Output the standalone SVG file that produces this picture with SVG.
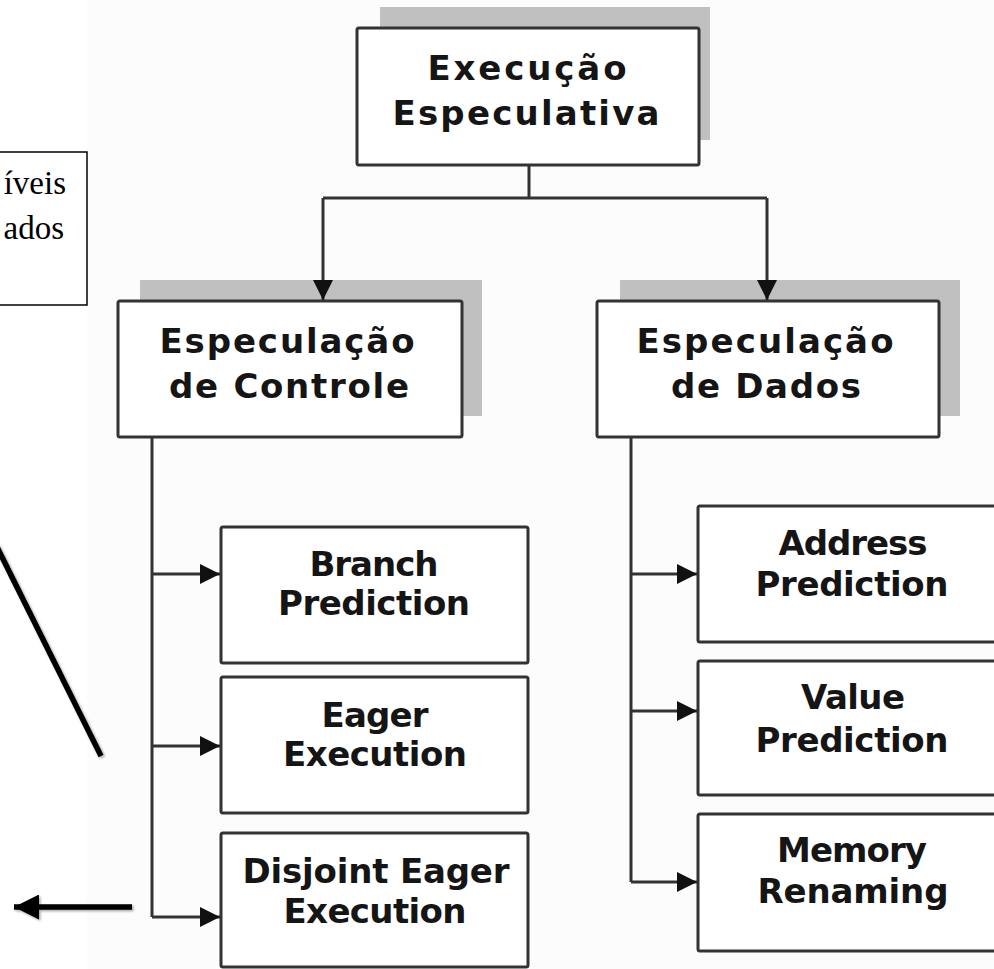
<svg xmlns="http://www.w3.org/2000/svg" width="994" height="969" viewBox="0 0 994 969">
  <defs>
    <style>
      .bg{fill:#fcfcfc}
      .box{fill:#fff;stroke:#333;stroke-width:3}
      .shadow{fill:#c0c0c0}
      .lbl{font-family:"DejaVu Sans",Verdana,sans-serif;font-weight:bold;font-size:34px;fill:#151515;text-anchor:middle}
      .conn{fill:none;stroke:#333;stroke-width:3}
      .note{font-family:"Liberation Serif","Times New Roman",serif;font-size:33px;fill:#000;text-anchor:end}
      .ann{fill:none;stroke:#000;stroke-width:5.5}
    </style>
    <marker id="ah" viewBox="0 0 10 10" refX="10" refY="5" markerUnits="userSpaceOnUse" markerWidth="20" markerHeight="20" orient="auto">
      <path d="M0,0 L10,5 L0,10 z" fill="#111"/>
    </marker>
    <marker id="ahBig" viewBox="0 0 10 10" refX="10" refY="5" markerUnits="userSpaceOnUse" markerWidth="25" markerHeight="25" orient="auto">
      <path d="M0,0 L10,5 L0,10 z" fill="#000"/>
    </marker>
    <filter id="sh" x="-20%" y="-20%" width="140%" height="140%">
      <feDropShadow dx="1.5" dy="1.5" stdDeviation="1.2" flood-color="#000" flood-opacity="0.35"/>
    </filter>
  </defs>

  <rect x="0" y="0" width="994" height="969" fill="#fff"/>
  <rect class="bg" x="87" y="0" width="907" height="969"/>

  <g id="note">
    <rect x="-10" y="152" width="97" height="153" fill="#fff" stroke="#000" stroke-width="1.5"/>
    <text class="note" x="66" y="194">íveis</text>
    <text class="note" x="64" y="239">ados</text>
  </g>

  <g id="root">
    <rect class="shadow" x="380" y="7" width="330" height="133"/>
    <rect class="box" x="357" y="28" width="342" height="137" rx="2"/>
    <text class="lbl" x="527" y="80" textLength="199" lengthAdjust="spacing">Execução</text>
    <text class="lbl" x="526" y="125" textLength="267" lengthAdjust="spacing">Especulativa</text>
  </g>

  <g id="controle">
    <rect class="shadow" x="140" y="280" width="342" height="136"/>
    <rect class="box" x="118" y="301" width="344" height="136" rx="2"/>
    <text class="lbl" x="287" y="353" textLength="255" lengthAdjust="spacing">Especulação</text>
    <text class="lbl" x="289" y="398" textLength="240" lengthAdjust="spacing">de Controle</text>
  </g>

  <g id="dados">
    <rect class="shadow" x="620" y="280" width="340" height="136"/>
    <rect class="box" x="597" y="301" width="342" height="136" rx="2"/>
    <text class="lbl" x="765" y="353" textLength="257" lengthAdjust="spacing">Especulação</text>
    <text class="lbl" x="766" y="398" textLength="190" lengthAdjust="spacing">de Dados</text>
  </g>

  <g id="branch">
    <rect class="box" x="221" y="527" width="307" height="136" rx="2"/>
    <text class="lbl" x="374" y="576" textLength="129" lengthAdjust="spacing">Branch</text>
    <text class="lbl" x="374" y="615" textLength="192" lengthAdjust="spacing">Prediction</text>
  </g>

  <g id="eager">
    <rect class="box" x="221" y="677" width="307" height="136" rx="2"/>
    <text class="lbl" x="375" y="727" textLength="107" lengthAdjust="spacing">Eager</text>
    <text class="lbl" x="375" y="766" textLength="184" lengthAdjust="spacing">Execution</text>
  </g>

  <g id="disjoint">
    <rect class="box" x="221" y="833" width="307" height="134" rx="2"/>
    <text class="lbl" x="376" y="883" textLength="267" lengthAdjust="spacing">Disjoint Eager</text>
    <text class="lbl" x="375" y="923" textLength="183" lengthAdjust="spacing">Execution</text>
  </g>

  <g id="address">
    <rect class="box" x="698" y="506" width="310" height="136" rx="2"/>
    <text class="lbl" x="853" y="555" textLength="149" lengthAdjust="spacing">Address</text>
    <text class="lbl" x="852" y="596" textLength="193" lengthAdjust="spacing">Prediction</text>
  </g>

  <g id="value">
    <rect class="box" x="698" y="661" width="310" height="134" rx="2"/>
    <text class="lbl" x="853" y="709" textLength="104" lengthAdjust="spacing">Value</text>
    <text class="lbl" x="852" y="752" textLength="193" lengthAdjust="spacing">Prediction</text>
  </g>

  <g id="memory">
    <rect class="box" x="698" y="814" width="310" height="137" rx="2"/>
    <text class="lbl" x="852" y="862" textLength="150" lengthAdjust="spacing">Memory</text>
    <text class="lbl" x="853" y="903" textLength="191" lengthAdjust="spacing">Renaming</text>
  </g>

  <g id="connectors">
    <path class="conn" d="M529,165 V198"/>
    <path class="conn" d="M323,198 H767"/>
    <path class="conn" d="M323,198 V300" marker-end="url(#ah)"/>
    <path class="conn" d="M767,198 V300" marker-end="url(#ah)"/>
    <path class="conn" d="M152,437 V917"/>
    <path class="conn" d="M152,574 H220" marker-end="url(#ah)"/>
    <path class="conn" d="M152,746 H220" marker-end="url(#ah)"/>
    <path class="conn" d="M152,917 H220" marker-end="url(#ah)"/>
    <path class="conn" d="M631,437 V882"/>
    <path class="conn" d="M631,574 H697" marker-end="url(#ah)"/>
    <path class="conn" d="M631,711 H697" marker-end="url(#ah)"/>
    <path class="conn" d="M631,882 H697" marker-end="url(#ah)"/>
  </g>

  <g id="annotations" filter="url(#sh)">
    <line class="ann" x1="-4" y1="545" x2="101" y2="756"/>
    <line class="ann" x1="132" y1="907" x2="14" y2="907" stroke-width="6.5" marker-end="url(#ahBig)"/>
  </g>
</svg>
